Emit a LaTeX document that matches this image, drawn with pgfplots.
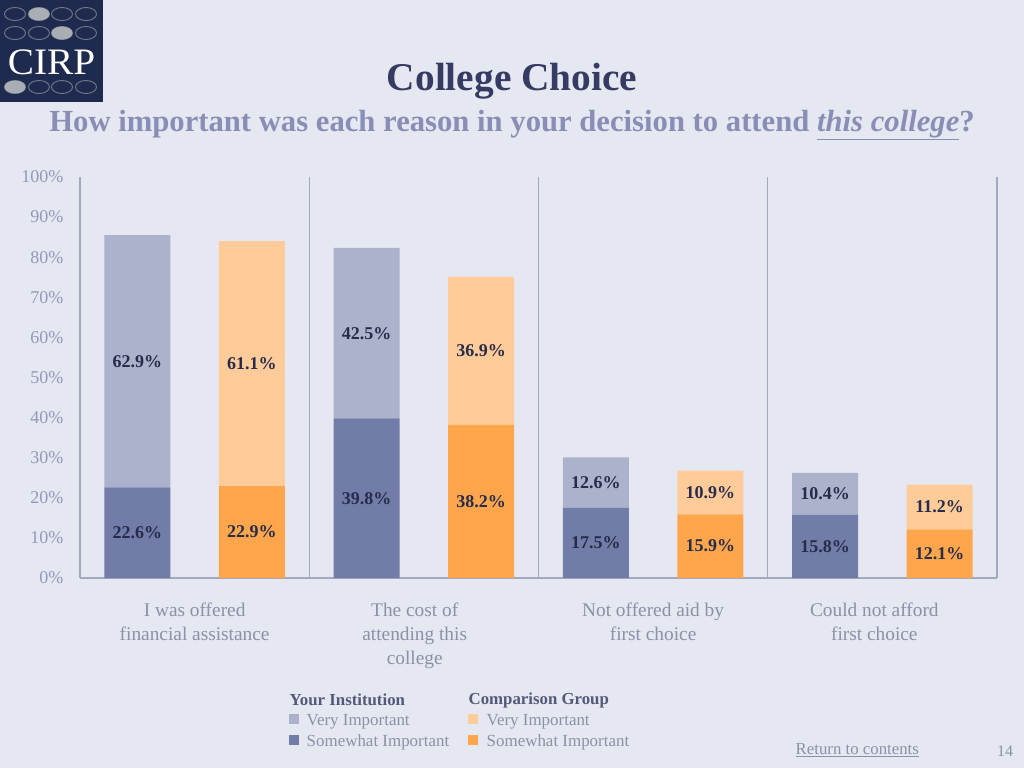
\documentclass[border=0pt]{standalone}
\usepackage{pgfplots}
\usepackage{pgfplotstable}
\pgfplotsset{compat=1.18}
\usepackage{fontspec}
\setmainfont{Liberation Serif}
\definecolor{bg}{HTML}{E5E8F0}
\definecolor{yil}{HTML}{AAB2CC}
\definecolor{yid}{HTML}{727CA8}
\definecolor{cgl}{HTML}{FFCB99}
\definecolor{cgd}{HTML}{FFA64D}
\definecolor{axisc}{HTML}{A4A8BC}
\definecolor{tickc}{HTML}{9397BA}
\definecolor{catc}{HTML}{8C90A8}
\definecolor{labc}{HTML}{262C4A}
\definecolor{titlec}{HTML}{363B63}
\definecolor{subc}{HTML}{8A8EB6}
\definecolor{logoc}{HTML}{1E2A4E}
\definecolor{ovalc}{HTML}{A9AEB4}

\pgfplotstableread{
x som very
0.25 22.6 62.9
1.25 39.8 42.5
2.25 17.5 12.6
3.25 15.8 10.4
}\yitab
\pgfplotstableread{
x som very
0.75 22.9 61.1
1.75 38.2 36.9
2.75 15.9 10.9
3.75 12.1 11.2
}\cgtab

\pgfplotsset{
  common/.style={
    at={(60pt,-433.5pt)}, anchor=south west, scale only axis,
    width=687.75pt, height=300.75pt,
    xmin=0, xmax=4, ymin=0, ymax=100,
    ybar stacked, bar width=0.288,
    /pgf/number format/assume math mode=true,
    nodes near coords={\pgfmathprintnumber[fixed,fixed zerofill,precision=1]{\rawy}\%},
    every node near coord/.append style={anchor=center, font=\bfseries\fontsize{13.5}{13.5}\selectfont, text=labc},
  },
}

\begin{document}
\begin{tikzpicture}
\begin{scope}[x=0.75pt,y=-0.75pt]
\fill[bg] (0,0) rectangle (1024,768);
% logo
\fill[logoc] (0,0) rectangle (103,102);
\foreach \yy in {14,33,87} {
  \foreach \xx in {15,39,62,86} {
    \draw[ovalc!60!logoc, line width=0.7pt] (\xx,\yy) ellipse (10.5 and 6.5);
  }
}
\fill[ovalc] (39,14) ellipse (10.5 and 6.5);
\fill[ovalc] (62,33) ellipse (10.5 and 6.5);
\fill[ovalc] (15,87) ellipse (10.5 and 6.5);
\node[text=white, font=\fontsize{28}{28}\selectfont, xscale=1.05] at (51.5,62) {CIRP};
% titles
\node[text=titlec, font=\bfseries\fontsize{29.5}{29.5}\selectfont] at (512,81) {College Choice};
\node[text=subc, font=\bfseries\fontsize{23}{23}\selectfont] at (512,125) {How important was each reason in your decision to attend \underline{\textit{this college}}?};
% legend
\node[anchor=west, text=titlec!85!white, font=\bfseries\fontsize{12.6}{12.6}\selectfont] at (285,700) {Your Institution};
\node[anchor=west, text=titlec!85!white, font=\bfseries\fontsize{12.6}{12.6}\selectfont] at (464,700) {Comparison Group};
\fill[yil] (289,714) rectangle (299,724);
\fill[yid] (289,735) rectangle (299,745);
\fill[cgl] (468,714) rectangle (478,724);
\fill[cgd] (468,735) rectangle (478,745);
\node[anchor=west, text=catc, font=\fontsize{12.7}{12.7}\selectfont] at (302,722) {Very Important};
\node[anchor=west, text=catc, font=\fontsize{12.7}{12.7}\selectfont] at (302,742) {Somewhat Important};
\node[anchor=west, text=catc, font=\fontsize{12.7}{12.7}\selectfont] at (482,722) {Very Important};
\node[anchor=west, text=catc, font=\fontsize{12.7}{12.7}\selectfont] at (482,742) {Somewhat Important};
% footer
\node[anchor=west, text=catc, font=\fontsize{12.6}{12.6}\selectfont] at (791,750) {\underline{Return to contents}};
\node[text=catc, font=\fontsize{12}{12}\selectfont] at (1005,751) {14};
\end{scope}

\begin{axis}[common,
  axis x line*=bottom, axis y line*=left,
  axis line style={draw=axisc, line width=0.8pt, -},
  ytick={0,10,...,100},
  yticklabel={\pgfmathprintnumber{\tick}\%},
  yticklabel style={text=tickc, font=\fontsize{13.5}{13.5}\selectfont, xshift=-9pt},
  xtick={0.5,1.46,2.5,3.465},
  xticklabels={{I was offered\\financial assistance},{The cost of\\attending this\\college},{Not offered aid by\\first choice},{Could not afford\\first choice}},
  xticklabel style={align=center, text=catc, font=\fontsize{14.5}{18}\selectfont, yshift=-15pt},
  extra x ticks={1,2,3,4},
  extra x tick labels={},
  extra x tick style={grid=major, major grid style={draw=axisc, line width=0.8pt}},
  major tick length=0pt,
]
\addplot[fill=yid, draw=none, visualization depends on={\thisrow{som} \as \rawy}] table[x=x,y=som] {\yitab};
\addplot[fill=yil, draw=none, visualization depends on={\thisrow{very} \as \rawy}] table[x=x,y=very] {\yitab};
\end{axis}

\begin{axis}[common, hide axis]
\addplot[fill=cgd, draw=none, visualization depends on={\thisrow{som} \as \rawy}] table[x=x,y=som] {\cgtab};
\addplot[fill=cgl, draw=none, visualization depends on={\thisrow{very} \as \rawy}] table[x=x,y=very] {\cgtab};
\end{axis}

\pgfresetboundingbox
\useasboundingbox (0,0) rectangle (768pt,-576pt);
\end{tikzpicture}
\end{document}
